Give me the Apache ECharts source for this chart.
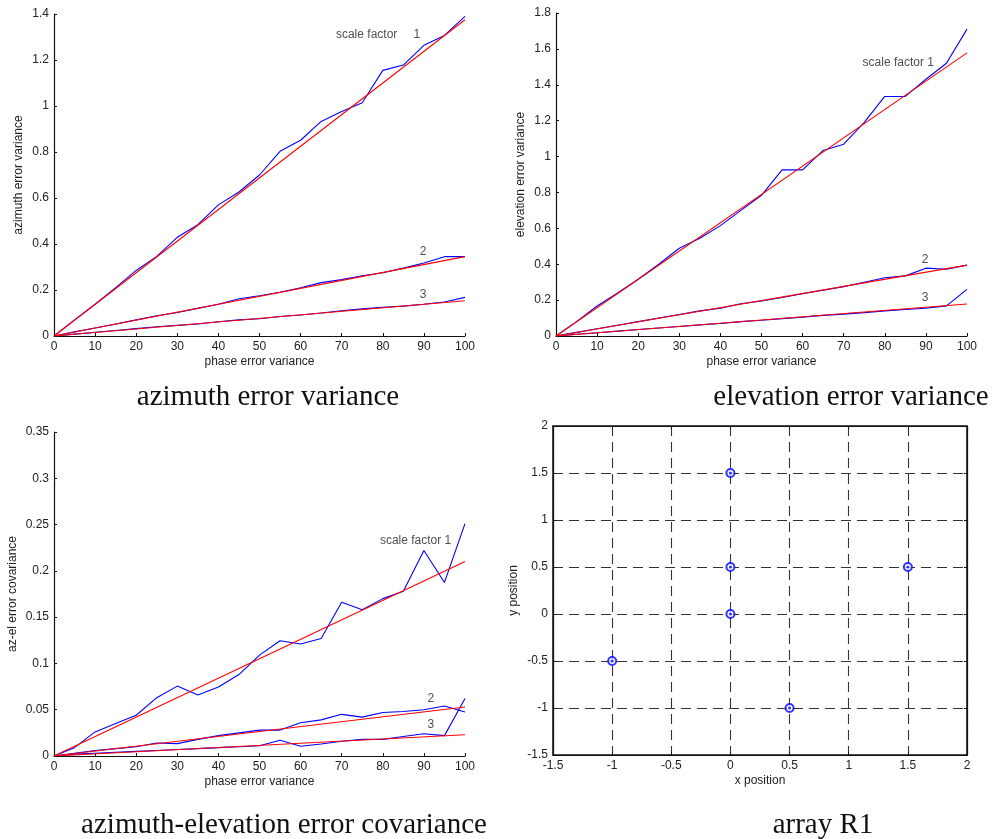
<!DOCTYPE html>
<html>
<head>
<meta charset="utf-8">
<script src="https://cdn.jsdelivr.net/npm/echarts@6/dist/echarts.min.js"></script>
<style>
html,body{margin:0;padding:0;background:#fff;}
#chart{width:997px;height:839px;}
</style>
</head>
<body>
<div id="chart"></div>
<script>
// ---------- data ----------
var phaseVar = [0,5,10,15,20,25,30,35,40,45,50,55,60,65,70,75,80,85,90,95,100];
var fitX = [0, 100];

// azimuth error variance
var azVar1 = [0,0.07,0.138,0.21,0.285,0.346,0.429,0.484,0.57,0.626,0.70,0.803,0.851,0.933,0.976,1.014,1.155,1.178,1.264,1.307,1.39];
var azVar2 = [0,0.018,0.035,0.052,0.07,0.088,0.102,0.12,0.138,0.162,0.175,0.19,0.21,0.232,0.245,0.262,0.275,0.295,0.317,0.345,0.345];
var azVar3 = [0,0.008,0.016,0.024,0.032,0.04,0.046,0.052,0.062,0.07,0.075,0.085,0.091,0.10,0.11,0.118,0.125,0.13,0.138,0.148,0.168];
var azFit1 = [0, 1.375];
var azFit2 = [0, 0.345];
var azFit3 = [0, 0.153];

// elevation error variance
var elVar1 = [0,0.08,0.167,0.24,0.316,0.40,0.489,0.545,0.615,0.70,0.784,0.926,0.926,1.034,1.069,1.19,1.335,1.335,1.431,1.52,1.71];
var elVar2 = [0,0.02,0.04,0.06,0.08,0.10,0.12,0.14,0.155,0.18,0.195,0.215,0.235,0.255,0.275,0.30,0.325,0.335,0.378,0.372,0.395];
var elVar3 = [0,0.01,0.018,0.027,0.036,0.045,0.053,0.062,0.07,0.08,0.088,0.097,0.105,0.115,0.122,0.13,0.14,0.148,0.155,0.168,0.26];
var elFit1 = [0, 1.578];
var elFit2 = [0, 0.395];
var elFit3 = [0, 0.178];

// azimuth-elevation error covariance
var covVar1 = [0,0.009,0.026,0.035,0.044,0.063,0.0755,0.066,0.0745,0.088,0.109,0.1245,0.121,0.127,0.166,0.158,0.170,0.178,0.222,0.1875,0.251];
var covVar2 = [0,0.003,0.006,0.008,0.010,0.014,0.0134,0.018,0.022,0.025,0.028,0.028,0.036,0.039,0.045,0.042,0.047,0.048,0.050,0.054,0.0476];
var covVar3 = [0,0.002,0.003,0.004,0.005,0.006,0.007,0.008,0.009,0.010,0.011,0.017,0.0105,0.013,0.016,0.018,0.018,0.021,0.024,0.022,0.062];
var covFit1 = [0, 0.210];
var covFit2 = [0, 0.053];
var covFit3 = [0, 0.023];

// array R1 element positions
var elemX = [0, 0, 0, 1.5, -1, 0.5];
var elemY = [1.5, 0.5, 0, 0.5, -0.5, -1];

// tick ranges
var phaseTicks = {min:0, max:100, interval:10};
var azTicks = {min:0, max:1.4, interval:0.2};
var elTicks = {min:0, max:1.8, interval:0.2};
var covTicks = {min:0, max:0.35, interval:0.05};
var posTicks = {min:-1.5, max:2, interval:0.5};

// annotation labels [text, x, y, align]
var azLabels = [['scale factor', 68.6, 1.309, 'left'], ['1', 88.3, 1.309, 'center'], ['2', 89.8, 0.365, 'center'], ['3', 89.8, 0.178, 'center']];
var elLabels = [['scale factor 1', 74.6, 1.522, 'left'], ['2', 89.8, 0.424, 'center'], ['3', 89.8, 0.212, 'center']];
var covLabels = [['scale factor 1', 79.3, 0.233, 'left'], ['2', 91.7, 0.0616, 'center'], ['3', 91.7, 0.0335, 'center']];

var captions = ['azimuth error variance', 'elevation error variance', 'azimuth-elevation error covariance', 'array R1'];

// ---------- helpers ----------
var FONT = 'Liberation Sans, Arial, sans-serif';
var TXT = '#222';
function zip(xs, ys){ return xs.map(function(x,i){ return [x, ys[i]]; }); }

function valAxis(ticks, gridIndex, name, gap, pos, opts){
  opts = opts || {};
  return Object.assign({
    type:'value', gridIndex:gridIndex, position:pos,
    min:ticks.min, max:ticks.max, interval:ticks.interval,
    name:name, nameLocation:'middle', nameGap:gap,
    nameTextStyle:{fontFamily:FONT, fontSize:12, color:TXT},
    axisLine:{show:true, onZero:false, lineStyle:{color:'#111', width:1.2}},
    axisTick:{show:true, inside:true, length:3, lineStyle:{color:'#111'}},
    axisLabel:{fontFamily:FONT, fontSize:12, color:TXT, margin:5, showMinLabel:true, showMaxLabel:true},
    splitLine:{show:false}
  }, opts);
}

function blue(xi, yi, ys){
  return {type:'line', xAxisIndex:xi, yAxisIndex:yi, data:zip(phaseVar, ys), symbol:'none', silent:true,
    lineStyle:{color:'#0000ff', width:1.1}, z:3};
}
function red(xi, yi, ys){
  return {type:'line', xAxisIndex:xi, yAxisIndex:yi, data:zip(fitX, ys), symbol:'none', silent:true,
    lineStyle:{color:'#ff0000', width:1.1}, z:4};
}
function labels(xi, yi, arr){
  return {type:'scatter', xAxisIndex:xi, yAxisIndex:yi, symbolSize:0, silent:true, z:5,
    data:arr.map(function(a){
      return {value:[a[1], a[2]], label:{show:true, position:'inside', formatter:a[0], align:a[3], verticalAlign:'middle',
        fontFamily:FONT, fontSize:12, color:TXT}};
    })};
}

var grids = [
  {left:54, top:14, width:411, height:322},
  {left:556, top:13, width:411, height:323},
  {left:54, top:432, width:411, height:324},
  {left:553, top:426, width:414, height:329, show:true, borderColor:'#111', borderWidth:1.5, backgroundColor:'transparent'}
];

var dash = {color:'#333', width:1.1, type:[10,6]};

var xAxes = [
  valAxis(phaseTicks, 0, 'phase error variance', 20, 'bottom'),
  valAxis(phaseTicks, 1, 'phase error variance', 20, 'bottom'),
  valAxis(phaseTicks, 2, 'phase error variance', 20, 'bottom'),
  valAxis(posTicks, 3, 'x position', 20, 'bottom', {splitLine:{show:true, lineStyle:dash}}),
  valAxis(posTicks, 3, '', 0, 'top', {axisLabel:{show:false}, name:''})
];
var yAxes = [
  valAxis(azTicks, 0, 'azimuth error variance', 29, 'left'),
  valAxis(elTicks, 1, 'elevation error variance', 29, 'left'),
  valAxis(covTicks, 2, 'az-el error covariance', 35, 'left'),
  valAxis(posTicks, 3, 'y position', 33, 'left', {splitLine:{show:true, lineStyle:dash}}),
  valAxis(posTicks, 3, '', 0, 'right', {axisLabel:{show:false}, name:''})
];

var series = [
  blue(0,0,azVar1), blue(0,0,azVar2), blue(0,0,azVar3),
  red(0,0,azFit1), red(0,0,azFit2), red(0,0,azFit3),
  labels(0,0,azLabels),
  blue(1,1,elVar1), blue(1,1,elVar2), blue(1,1,elVar3),
  red(1,1,elFit1), red(1,1,elFit2), red(1,1,elFit3),
  labels(1,1,elLabels),
  blue(2,2,covVar1), blue(2,2,covVar2), blue(2,2,covVar3),
  red(2,2,covFit1), red(2,2,covFit2), red(2,2,covFit3),
  labels(2,2,covLabels),
  {type:'scatter', xAxisIndex:3, yAxisIndex:3, data:zip(elemX, elemY), symbol:'emptyCircle', symbolSize:8, silent:true, z:6,
    itemStyle:{color:'#0000ff', borderColor:'#0000ff', borderWidth:1.3}},
  {type:'scatter', xAxisIndex:3, yAxisIndex:3, data:zip(elemX, elemY), symbol:'circle', symbolSize:3, silent:true, z:7,
    itemStyle:{color:'#0000ff'}}
];

var capStyle = {fontFamily:'Liberation Serif, Times New Roman, serif', fontSize:29, fontWeight:'normal', color:'#111'};
var titles = [
  {text:captions[0], left:268, top:383, textAlign:'center', textStyle:capStyle, padding:0},
  {text:captions[1], left:851, top:383, textAlign:'center', textStyle:capStyle, padding:0},
  {text:captions[2], left:284, top:811, textAlign:'center', textStyle:capStyle, padding:0},
  {text:captions[3], left:823, top:811, textAlign:'center', textStyle:capStyle, padding:0}
];

var chart = echarts.init(document.getElementById('chart'), null, {renderer:'canvas'});
chart.setOption({
  animation:false,
  backgroundColor:'#fff',
  title:titles,
  grid:grids,
  xAxis:xAxes,
  yAxis:yAxes,
  series:series
});
</script>
</body>
</html>
